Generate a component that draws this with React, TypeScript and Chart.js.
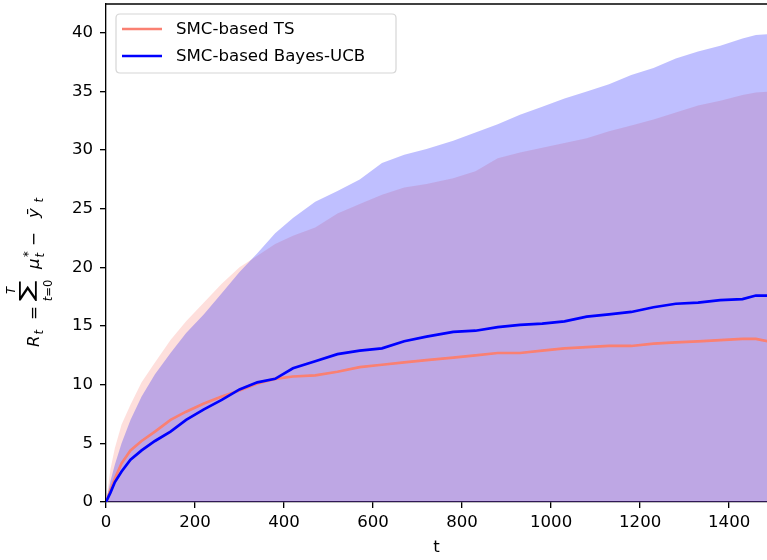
import React, { useEffect, useRef } from "react";
import { Chart, registerables } from "chart.js";

Chart.register(...registerables);

const T = [0, 10, 20, 35, 55, 80, 110, 145, 180, 220, 260, 300, 340, 380, 420, 470, 520, 570, 620, 670, 720, 780, 830, 880, 930, 980, 1030, 1080, 1130, 1180, 1230, 1280, 1330, 1380, 1430, 1460, 1500];
const tsMean = [0, 1.0, 2.0, 3.3, 4.4, 5.2, 6.0, 7.0, 7.7, 8.4, 9.0, 9.5, 10.1, 10.5, 10.7, 10.8, 11.1, 11.5, 11.7, 11.9, 12.1, 12.3, 12.5, 12.7, 12.7, 12.9, 13.1, 13.2, 13.3, 13.3, 13.5, 13.6, 13.7, 13.8, 13.9, 13.9, 13.6];
const ucbMean = [0, 0.8, 1.7, 2.6, 3.6, 4.4, 5.2, 6.0, 7.0, 7.9, 8.7, 9.6, 10.2, 10.5, 11.4, 12.0, 12.6, 12.9, 13.1, 13.7, 14.1, 14.5, 14.6, 14.9, 15.1, 15.2, 15.4, 15.8, 16.0, 16.2, 16.6, 16.9, 17.0, 17.2, 17.3, 17.6, 17.6];
const tsUpper = [0, 2.8, 4.6, 6.6, 8.3, 10.2, 11.9, 13.8, 15.4, 17.0, 18.6, 20.0, 21.0, 22.0, 22.7, 23.4, 24.6, 25.4, 26.2, 26.8, 27.1, 27.6, 28.2, 29.3, 29.8, 30.2, 30.6, 31.0, 31.6, 32.1, 32.6, 33.2, 33.8, 34.2, 34.7, 34.9, 35.0];
const ucbUpper = [0, 1.8, 3.2, 5.0, 7.0, 9.0, 10.9, 12.7, 14.4, 16.0, 17.8, 19.6, 21.2, 22.9, 24.2, 25.6, 26.5, 27.5, 28.9, 29.6, 30.1, 30.8, 31.5, 32.2, 33.0, 33.7, 34.4, 35.0, 35.6, 36.4, 37.0, 37.8, 38.4, 38.9, 39.5, 39.8, 39.9];

const seriesLabels = ["SMC-based TS", "SMC-based Bayes-UCB"];
const seriesColors = ["#FA8072", "#0000FF"];
const bandColors = ["rgba(250,128,114,0.25)", "rgba(0,0,255,0.25)"];
const xTickStep = 200;
const yTickStep = 5;

const FONT = "DejaVu Sans";
const FS = 16.6;

const pts = (ys: number[]) => T.map((t, i) => ({ x: t, y: ys[i] }));

const framePlugin = {
  id: "frame",
  afterDraw(chart: any) {
    const { ctx, chartArea } = chart;
    ctx.save();
    ctx.strokeStyle = "#000";
    ctx.lineWidth = 1.33;
    ctx.beginPath();
    ctx.moveTo(chartArea.left, chartArea.top);
    ctx.lineTo(chartArea.right + 2, chartArea.top);
    ctx.stroke();
    ctx.restore();
  },
};

const legendPlugin = {
  id: "mplLegend",
  afterDraw(chart: any) {
    const { ctx, chartArea } = chart;
    const x0 = chartArea.left + 10;
    const y0 = chartArea.top + 10;
    const w = 280;
    const h = 59;
    const r = 4;
    ctx.save();
    ctx.beginPath();
    ctx.moveTo(x0 + r, y0);
    ctx.lineTo(x0 + w - r, y0);
    ctx.quadraticCurveTo(x0 + w, y0, x0 + w, y0 + r);
    ctx.lineTo(x0 + w, y0 + h - r);
    ctx.quadraticCurveTo(x0 + w, y0 + h, x0 + w - r, y0 + h);
    ctx.lineTo(x0 + r, y0 + h);
    ctx.quadraticCurveTo(x0, y0 + h, x0, y0 + h - r);
    ctx.lineTo(x0, y0 + r);
    ctx.quadraticCurveTo(x0, y0, x0 + r, y0);
    ctx.closePath();
    ctx.fillStyle = "rgba(255,255,255,0.8)";
    ctx.fill();
    ctx.strokeStyle = "#d6d6d6";
    ctx.lineWidth = 1.2;
    ctx.stroke();
    ctx.font = `${FS}px "${FONT}"`;
    ctx.textBaseline = "middle";
    ctx.textAlign = "left";
    seriesLabels.forEach((lab, i) => {
      const yy = y0 + 15 + i * 27;
      ctx.strokeStyle = seriesColors[i];
      ctx.lineWidth = 2.5;
      ctx.beginPath();
      ctx.moveTo(x0 + 6, yy);
      ctx.lineTo(x0 + 46, yy);
      ctx.stroke();
      ctx.fillStyle = "#000";
      ctx.fillText(lab, x0 + 60, yy + 1);
    });
    ctx.restore();
  },
};

const yLabelPlugin = {
  id: "yLabel",
  afterDraw(chart: any) {
    const { ctx } = chart;
    const S = FS;
    const s = S * 0.7;
    const it = (sz: number) => `italic ${sz}px "${FONT}"`;
    const nm = (sz: number) => `${sz}px "${FONT}"`;
    ctx.save();
    ctx.translate(39, 347);
    ctx.rotate(-Math.PI / 2);
    ctx.fillStyle = "#000";
    ctx.textBaseline = "alphabetic";
    ctx.textAlign = "left";
    const put = (txt: string, font: string, u: number, v: number) => {
      ctx.font = font;
      ctx.fillText(txt, u, v);
    };
    put("R", it(S), 0, 0);
    put("t", it(s), 12.5, 4);
    put("=", nm(S), 27, 0);
    const uSum = 46;
    const sumW = 21;
    const sumTopV = -20;
    const sumH = 18;
    ctx.font = nm(S * 1.5);
    const m = ctx.measureText("\u2211");
    const inkW = m.actualBoundingBoxLeft + m.actualBoundingBoxRight;
    const inkH = m.actualBoundingBoxAscent + m.actualBoundingBoxDescent;
    ctx.save();
    ctx.translate(uSum, sumTopV);
    ctx.scale(sumW / inkW, sumH / inkH);
    ctx.fillText("\u2211", m.actualBoundingBoxLeft, m.actualBoundingBoxAscent);
    ctx.restore();
    ctx.font = it(s);
    const wT = ctx.measureText("T").width;
    ctx.fillText("T", uSum + (sumW - wT) / 2, sumTopV - 4);
    const wt = ctx.measureText("t").width;
    ctx.font = nm(s);
    const weq0 = ctx.measureText("=0").width;
    const wlim = wt + weq0;
    ctx.font = it(s);
    ctx.fillText("t", uSum + (sumW - wlim) / 2, 13);
    ctx.font = nm(s);
    ctx.fillText("=0", uSum + (sumW - wlim) / 2 + wt, 13);
    put("\u03bc", it(S), 78, 0);
    put("*", nm(s), 90, -7);
    put("t", it(s), 89.5, 5);
    put("\u2212", nm(S), 101, 0);
    put("\u0233", it(S), 129, 0);
    put("t", it(s), 144.5, 4);
    ctx.restore();
  },
};

export default function App() {
  const ref = useRef<HTMLCanvasElement | null>(null);
  useEffect(() => {
    if (!ref.current) return;
    const tickFont = { family: FONT, size: FS };
    const chart = new Chart(ref.current, {
      type: "line",
      data: {
        datasets: [
          {
            label: seriesLabels[1],
            data: pts(ucbMean),
            borderColor: seriesColors[1],
            borderWidth: 2.7,
            pointRadius: 0,
            fill: false,
            order: 0,
          },
          {
            label: seriesLabels[0],
            data: pts(tsMean),
            borderColor: seriesColors[0],
            borderWidth: 2.7,
            pointRadius: 0,
            fill: false,
            order: 1,
          },
          {
            label: "UCB band",
            data: pts(ucbUpper),
            borderWidth: 0,
            borderColor: "rgba(0,0,0,0)",
            backgroundColor: bandColors[1],
            pointRadius: 0,
            fill: "origin",
            order: 2,
          },
          {
            label: "TS band",
            data: pts(tsUpper),
            borderWidth: 0,
            borderColor: "rgba(0,0,0,0)",
            backgroundColor: bandColors[0],
            pointRadius: 0,
            fill: "origin",
            order: 3,
          },
        ],
      },
      options: {
        animation: false,
        responsive: false,
        devicePixelRatio: 1,
        layout: { padding: { top: 4, left: 0, right: 0, bottom: 0 } },
        plugins: {
          legend: { display: false },
          tooltip: { enabled: false },
        },
        scales: {
          x: {
            type: "linear",
            min: 0,
            max: 1485,
            afterFit: (sc: any) => {
              sc.height = 58;
              sc.paddingLeft = 0;
              sc.paddingRight = 0;
            },
            ticks: {
              stepSize: xTickStep,
              includeBounds: false,
              color: "#000",
              font: tickFont,
              padding: 5,
              maxRotation: 0,
              callback: (v: any) => String(v),
            },
            grid: {
              drawOnChartArea: false,
              drawTicks: true,
              tickLength: 6,
              color: "#000",
              lineWidth: 1.33,
            },
            border: { color: "#000", width: 1.33 },
            title: {
              display: true,
              text: "t",
              color: "#000",
              font: { family: FONT, size: FS },
              padding: { top: 0, bottom: 2 },
            },
          },
          y: {
            type: "linear",
            min: 0,
            max: 42.45,
            afterFit: (sc: any) => {
              sc.width = 106;
              sc.paddingTop = 0;
              sc.paddingBottom = 0;
            },
            ticks: {
              stepSize: yTickStep,
              includeBounds: false,
              color: "#000",
              font: tickFont,
              padding: 7,
              callback: (v: any) => String(v),
            },
            grid: {
              drawOnChartArea: false,
              drawTicks: true,
              tickLength: 6,
              color: "#000",
              lineWidth: 1.33,
            },
            border: { color: "#000", width: 1.33 },
          },
        },
      },
      plugins: [framePlugin, legendPlugin, yLabelPlugin],
    } as any);
    return () => chart.destroy();
  }, []);
  return (
    <div style={{ position: "absolute", left: 0, top: 0, width: 767, height: 560, background: "#fff" }}>
      <canvas ref={ref} width={767} height={560} style={{ display: "block" }} />
    </div>
  );
}
